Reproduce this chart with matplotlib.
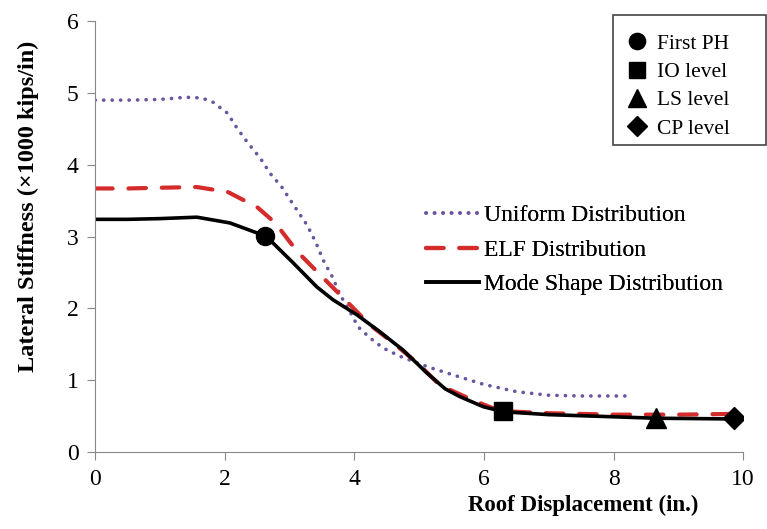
import matplotlib.pyplot as plt
from matplotlib.lines import Line2D
from matplotlib.patches import Rectangle

plt.rcParams['font.family'] = ['Liberation Serif', 'DejaVu Serif']

# Uniform distribution
x_uni = [0, 0.5, 1.0, 1.4, 1.65, 1.82, 2.04, 2.19, 2.36, 2.55, 2.70, 2.88, 3.04, 3.27, 3.40, 3.52,
         3.66, 3.78, 3.94, 4.06, 4.24, 4.44, 4.71, 5.12, 5.5, 6.0, 6.5, 7.0, 7.5, 8.2]
y_uni = [4.90, 4.90, 4.91, 4.94, 4.93, 4.87, 4.72, 4.51, 4.30, 4.09, 3.88, 3.69, 3.47, 3.16, 2.93, 2.67,
         2.44, 2.19, 1.94, 1.74, 1.59, 1.45, 1.33, 1.19, 1.08, 0.94, 0.84, 0.79, 0.78, 0.78]

# ELF distribution
x_elf = [0, 0.5, 1.0, 1.57, 2.05, 2.5, 2.78, 3.12, 3.47, 3.89, 4.24, 4.6, 4.97, 5.32, 5.83, 6.25,
         7.0, 8.0, 9.0, 9.85]
y_elf = [3.67, 3.67, 3.68, 3.69, 3.62, 3.41, 3.19, 2.79, 2.47, 2.09, 1.77, 1.52, 1.24, 0.93, 0.72, 0.57,
         0.54, 0.52, 0.52, 0.53]

# Mode shape distribution
x_mode = [0, 0.5, 1.0, 1.57, 2.08, 2.62, 2.7, 3.06, 3.42, 3.67, 4.04, 4.40, 4.75, 5.12, 5.4, 5.63,
          5.99, 6.3, 7.0, 8.0, 8.65, 9.85]
y_mode = [3.24, 3.24, 3.25, 3.27, 3.19, 3.01, 2.95, 2.63, 2.30, 2.12, 1.91, 1.67, 1.42, 1.10, 0.88, 0.77,
          0.63, 0.56, 0.52, 0.49, 0.47, 0.46]

# performance points on the mode shape curve
pt_labels = ['First PH', 'IO level', 'LS level', 'CP level']
pt_x = [2.62, 6.3, 8.65, 9.85]
pt_y = [3.01, 0.57, 0.47, 0.47]
pt_markers = ['o', 's', '^', 'D']
pt_sizes = [13, 13, 14, 11]

fig = plt.figure(figsize=(7.67, 5.29), dpi=100)
ax = fig.add_axes([0.124, 0.1456, 0.845, 0.8144])

ax.plot(x_uni, y_uni, color='#6a559e', lw=2.6, linestyle=(0, (0.05, 2.3)),
        dash_capstyle='round', label='Uniform Distribution')
ax.plot(x_elf, y_elf, color='#d42b2b', lw=3.0, linestyle=(0, (4.2, 3.8)),
        dash_capstyle='round', label='ELF Distribution')
ax.plot(x_mode, y_mode, color='black', lw=2.6, solid_joinstyle='round',
        label='Mode Shape Distribution')

for px, py, m, s in zip(pt_x, pt_y, pt_markers, pt_sizes):
    ax.plot(px, py, marker=m, color='black', markersize=s, linestyle='none', zorder=5)

ax.set_xlim(0, 10)
ax.set_ylim(0, 6)
ax.set_xticks(range(0, 11, 2))
ax.set_yticks(range(0, 7))
for s in ['top', 'right']:
    ax.spines[s].set_visible(False)
for s in ['left', 'bottom']:
    ax.spines[s].set_color('#888888')
ax.tick_params(direction='out', length=6, color='#888888', labelsize=17, pad=6)

ax.set_xlabel('Roof Displacement (in.)', fontsize=16.5, fontweight='bold')
ax.xaxis.set_label_coords(0.753, -0.099)
ax.set_ylabel('Lateral Stiffness (×1000 kips/in)', fontsize=17.5, fontweight='bold')
ax.yaxis.set_label_coords(-0.086, 0.571)

leg1 = ax.legend(loc='upper left', bbox_to_anchor=(0.492, 0.601), frameon=False,
                 fontsize=17, handlelength=2.25, handletextpad=0.2, labelspacing=0.55,
                 borderpad=0)
ax.add_artist(leg1)

# marker legend with its own box
fig.add_artist(Rectangle((613 / 767, 1 - 145 / 529), 153 / 767, 130 / 529,
                         transform=fig.transFigure, fill=False, edgecolor='#444444', lw=1.2))
handles = [Line2D([], [], marker=m, color='black', linestyle='none', markersize=s * 0.9)
           for m, s in zip(pt_markers, pt_sizes)]
fig.legend(handles, pt_labels, loc='upper left', bbox_to_anchor=(615 / 767, 1 - 23 / 529),
           fontsize=15.5, frameon=False, handlelength=1.0, handletextpad=0.45,
           labelspacing=0.38, borderpad=0)

fig.savefig('out.png', dpi=100)
